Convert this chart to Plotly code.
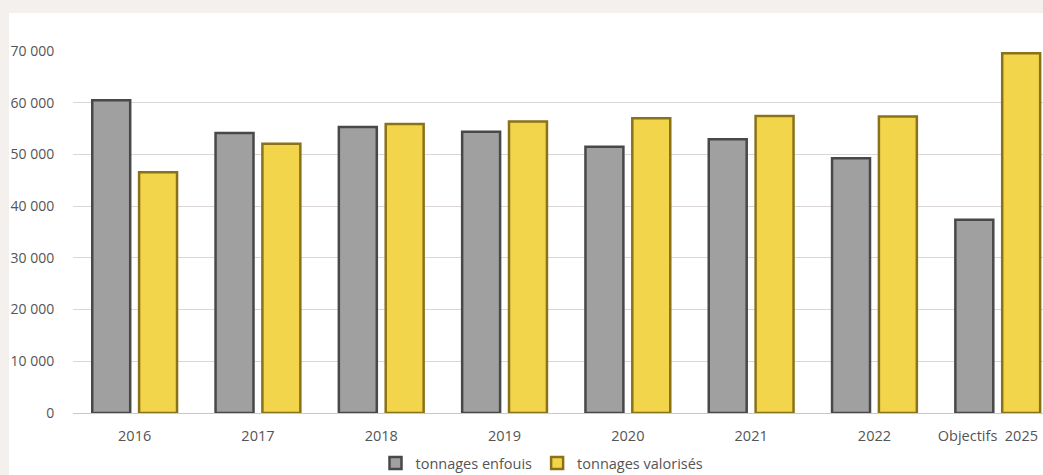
import plotly.graph_objects as go

categories = ["2016", "2017", "2018", "2019", "2020", "2021", "2022", "Objectifs 2025"]
tick_labels = ["2016", "2017", "2018", "2019", "2020", "2021", "2022", "Objectifs\u00a0\u00a02025"]
enfouis = [60500, 54150, 55300, 54400, 51500, 52950, 49250, 37350]
valorises = [46550, 52050, 55900, 56350, 57000, 57450, 57350, 69550]
series_names = ["tonnages enfouis", "tonnages valorisés"]
y_ticks = [0, 10000, 20000, 30000, 40000, 50000, 60000, 70000]
y_ticktext = ["0", "10 000", "20 000", "30 000", "40 000", "50 000", "60 000", "70 000"]

FONT = "Open Sans"
TXT = "#555555"

fig = go.Figure()
fig.add_trace(go.Bar(
    x=categories, y=enfouis, name=series_names[0],
    marker=dict(color="#a0a0a0", line=dict(color="#484848", width=2.5)),
))
fig.add_trace(go.Bar(
    x=categories, y=valorises, name=series_names[1],
    marker=dict(color="#f3d54c", line=dict(color="#8a7218", width=2.5)),
))

W, H = 1043, 475
L, R, T, B = 73, 0, 51, 62
pw, ph = W - L - R, H - T - B
band = 123.3  # pixel width of one category band
x_max = -0.5 + pw / band

# tick positions by category index; the last label is nudged left so it stays inside the page
tick_pos = list(range(len(categories)))
tick_pos[-1] = tick_pos[-1] - 0.08

fig.update_layout(
    width=W, height=H,
    margin=dict(l=L, r=R, t=T, b=B, autoexpand=False),
    paper_bgcolor="#f4f0ee",
    plot_bgcolor="white",
    barmode="group",
    bargap=0.24,
    bargroupgap=0.19,
    font=dict(family=FONT, color=TXT, size=13),
    showlegend=True,
    legend=dict(
        orientation="h", x=(542 - L) / pw, xanchor="center", y=(413 - 463) / ph, yanchor="middle",
        font=dict(size=14.5, color=TXT), bgcolor="rgba(0,0,0,0)",
        itemwidth=30, traceorder="normal",
    ),
    shapes=[dict(
        type="rect", xref="paper", yref="paper", layer="below",
        x0=(9 - L) / pw, x1=1.05, y0=-B / ph - 0.05, y1=(413 - 13) / ph,
        fillcolor="white", line=dict(width=0),
    )],
)
fig.update_xaxes(
    range=[-0.5, x_max], tickmode="array", tickvals=tick_pos, ticktext=tick_labels,
    showgrid=False, showline=False, ticks="outside", ticklen=10, tickcolor="rgba(0,0,0,0)",
    tickfont=dict(size=14.5, color=TXT, family=FONT), automargin=False,
)
fig.update_yaxes(
    range=[0, 70000], tickvals=y_ticks, ticktext=y_ticktext,
    showgrid=True, gridcolor="#dcd6d6", gridwidth=1,
    zeroline=True, zerolinecolor="#c8c8c8", zerolinewidth=1,
    showline=False, ticks="outside", ticklen=15, tickcolor="rgba(0,0,0,0)",
    tickfont=dict(size=14, color=TXT, family=FONT), automargin=False,
)

fig.write_html("out.html", config={"displayModeBar": False})

with open("out.html", encoding="utf-8") as f:
    html = f.read()
html = html.replace("<head>", "<head><style>html,body{margin:0;padding:0;overflow:hidden;}</style>", 1)
with open("out.html", "w", encoding="utf-8") as f:
    f.write(html)
